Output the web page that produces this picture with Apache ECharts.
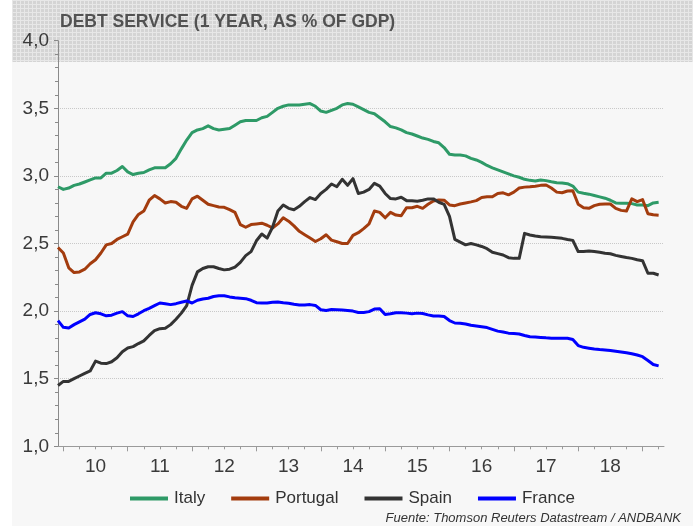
<!DOCTYPE html>
<html>
<head>
<meta charset="utf-8">
<style>
  html, body { margin: 0; padding: 0; background: #fff; }
  #chart { width: 695px; height: 526px; }
</style>
<script src="https://cdn.jsdelivr.net/npm/echarts@6/dist/echarts.min.js"></script>
</head>
<body>
<div id="chart"></div>
<script>
// monthly points, Dec 2009 .. Apr 2019 (axis runs one month further)
const startYear = 2009
const startMonth = 12
const axisMonths = 114
const yearLabels = ['10', '11', '12', '13', '14', '15', '16', '17', '18']
const yTicks = ['1,0', '1,5', '2,0', '2,5', '3,0', '3,5', '4,0']

const italy = [
  2.92, 2.90, 2.91, 2.93, 2.94, 2.955, 2.97, 2.985, 2.985, 3.02, 3.02, 3.04,
  3.07, 3.03, 3.01, 3.02, 3.025, 3.045, 3.06, 3.06, 3.06, 3.09, 3.13, 3.20,
  3.265, 3.32, 3.34, 3.35, 3.37, 3.35, 3.34, 3.345, 3.35, 3.375, 3.40, 3.41,
  3.41, 3.41, 3.43, 3.44, 3.47, 3.50, 3.515, 3.525, 3.525, 3.525, 3.53, 3.535,
  3.515, 3.48, 3.47, 3.485, 3.50, 3.525, 3.535, 3.53, 3.51, 3.49, 3.47, 3.46,
  3.43, 3.40, 3.365, 3.355, 3.34, 3.32, 3.31, 3.295, 3.28, 3.27, 3.255, 3.245,
  3.21, 3.16, 3.155, 3.155, 3.148, 3.13, 3.118, 3.10, 3.077, 3.06, 3.045, 3.03,
  3.015, 3.00, 2.99, 2.975, 2.967, 2.962, 2.97, 2.965, 2.957, 2.95, 2.947, 2.942,
  2.925, 2.88, 2.872, 2.865, 2.855, 2.845, 2.835, 2.82, 2.80, 2.797, 2.797, 2.795,
  2.785, 2.785, 2.78, 2.80, 2.805
]
const portugal = [
  2.47, 2.43, 2.32, 2.285, 2.29, 2.31, 2.35, 2.38, 2.43, 2.49, 2.50, 2.53,
  2.55, 2.57, 2.66, 2.715, 2.74, 2.82, 2.855, 2.83, 2.80, 2.81, 2.805, 2.775,
  2.76, 2.83, 2.85, 2.82, 2.79, 2.78, 2.77, 2.768, 2.75, 2.73, 2.64, 2.62,
  2.64, 2.645, 2.65, 2.635, 2.615, 2.645, 2.69, 2.665, 2.63, 2.59, 2.565, 2.54,
  2.515, 2.535, 2.565, 2.525, 2.513, 2.50, 2.50, 2.56, 2.58, 2.61, 2.645, 2.74,
  2.73, 2.69, 2.73, 2.71, 2.705, 2.765, 2.765, 2.775, 2.76, 2.79, 2.815, 2.822,
  2.82, 2.785, 2.78, 2.792, 2.80, 2.808, 2.817, 2.84, 2.845, 2.845, 2.87, 2.875,
  2.86, 2.88, 2.91, 2.917, 2.92, 2.924, 2.93, 2.933, 2.91, 2.88, 2.875, 2.888,
  2.89, 2.79, 2.765, 2.76, 2.78, 2.79, 2.792, 2.792, 2.76, 2.745, 2.74, 2.83,
  2.81, 2.825, 2.72, 2.712, 2.709
]
const spain = [
  1.45, 1.48, 1.48, 1.50, 1.52, 1.54, 1.557, 1.63, 1.615, 1.612, 1.625, 1.655,
  1.70, 1.727, 1.737, 1.76, 1.78, 1.82, 1.855, 1.87, 1.873, 1.90, 1.94, 1.985,
  2.04, 2.19, 2.29, 2.315, 2.328, 2.328, 2.315, 2.305, 2.31, 2.325, 2.36, 2.41,
  2.44, 2.52, 2.57, 2.54, 2.62, 2.74, 2.785, 2.76, 2.75, 2.775, 2.81, 2.84,
  2.825, 2.87, 2.90, 2.94, 2.92, 2.975, 2.93, 2.98, 2.87, 2.88, 2.90, 2.945,
  2.925, 2.87, 2.832, 2.83, 2.842, 2.817, 2.817, 2.812, 2.82, 2.83, 2.83, 2.805,
  2.79, 2.70, 2.53, 2.51, 2.49, 2.50, 2.49, 2.478, 2.462, 2.435, 2.425, 2.415,
  2.395, 2.39, 2.39, 2.575, 2.563, 2.555, 2.55, 2.548, 2.546, 2.543, 2.538, 2.53,
  2.523, 2.44, 2.44, 2.445, 2.44, 2.435, 2.428, 2.424, 2.412, 2.404, 2.396, 2.39,
  2.38, 2.373, 2.28, 2.28, 2.267
]
const france = [
  1.93, 1.88, 1.875, 1.90, 1.92, 1.94, 1.975, 1.988, 1.98, 1.965, 1.97, 1.985,
  1.996, 1.965, 1.96, 1.98, 2.003, 2.02, 2.04, 2.06, 2.055, 2.048, 2.055, 2.065,
  2.075, 2.06, 2.08, 2.09, 2.095, 2.108, 2.113, 2.114, 2.105, 2.098, 2.095, 2.092,
  2.08, 2.062, 2.06, 2.06, 2.065, 2.068, 2.062, 2.058, 2.05, 2.045, 2.045, 2.048,
  2.042, 2.01, 2.005, 2.012, 2.01, 2.008, 2.005, 2.00, 1.99, 1.99, 1.996, 2.015,
  2.018, 1.975, 1.98, 1.988, 1.988, 1.985, 1.98, 1.985, 1.982, 1.972, 1.964, 1.964,
  1.96, 1.93, 1.912, 1.91, 1.905, 1.895, 1.89, 1.884, 1.878, 1.865, 1.852, 1.845,
  1.837, 1.834, 1.831, 1.82, 1.81, 1.808, 1.805, 1.802, 1.80, 1.799, 1.799, 1.799,
  1.79, 1.745, 1.732, 1.726, 1.72, 1.716, 1.713, 1.708, 1.703, 1.698, 1.692, 1.684,
  1.675, 1.663, 1.635, 1.605, 1.595
]

const months = []
for (let k = 0; k < axisMonths; k++) {
  const t = startMonth - 1 + k
  months.push((startYear + Math.floor(t / 12)) + '-' + String(t % 12 + 1).padStart(2, '0'))
}
const monthOf = v => Number(v.slice(5, 7))

// textured band behind the title
const tex = document.createElement('canvas')
tex.width = 4
tex.height = 4
const g = tex.getContext('2d')
g.fillStyle = '#d4d4d4'
g.fillRect(0, 0, 4, 4)
g.fillStyle = '#e7e7e7'
g.fillRect(0, 0, 4, 1)
g.fillRect(0, 0, 1, 4)

const FONT = 'Liberation Sans, Arial, sans-serif'
const chart = echarts.init(document.getElementById('chart'))

chart.setOption({
  animation: false,
  backgroundColor: '#fff',
  title: {
    text: 'DEBT SERVICE (1 YEAR, AS % OF GDP)',
    left: 55, top: 8,
    textStyle: { fontFamily: FONT, fontSize: 17.5, fontWeight: 'bold', color: '#525252' }
  },
  graphic: [
    { type: 'rect', z: 0, silent: true, shape: { x: 12, y: 62, width: 681, height: 464 }, style: { fill: '#f7f7f7' } },
    { type: 'rect', z: 2, silent: true, shape: { x: 12, y: 0, width: 681, height: 62 }, style: { fill: { image: tex, repeat: 'repeat' } } },
    {
      type: 'text', z: 5, right: 14, top: 512,
      style: { text: 'Fuente: Thomson Reuters Datastream / ANDBANK', font: 'italic 13px ' + FONT, fill: '#333' }
    }
  ],
  legend: {
    left: 125, top: 485,
    icon: 'rect', itemWidth: 38, itemHeight: 4, itemGap: 26, itemSpacing: 0,
    textStyle: { fontFamily: FONT, fontSize: 17, color: '#333', padding: [0, 0, 0, 1] },
    data: ['Italy', 'Portugal', 'Spain', 'France']
  },
  grid: { left: 58, right: 31, top: 40.7, bottom: 79.7, containLabel: false },
  xAxis: [
    {
      type: 'category', data: months, boundaryGap: false, z: 3,
      axisLine: { lineStyle: { color: '#9a9a9a', width: 1 } },
      axisTick: { show: true, length: 3, interval: (i, v) => monthOf(v) % 3 === 1, lineStyle: { color: '#9a9a9a' } },
      axisLabel: {
        interval: (i, v) => monthOf(v) === 7,
        formatter: v => yearLabels[Number(v.slice(0, 4)) - 2010],
        margin: 11, fontFamily: FONT, fontSize: 19, color: '#3a3a3a'
      },
      splitLine: { show: false }
    },
    {
      type: 'category', data: months, boundaryGap: false, z: 3, position: 'bottom',
      axisLine: { show: false },
      axisTick: { show: true, length: 5, interval: (i, v) => monthOf(v) === 1, lineStyle: { color: '#9a9a9a' } },
      axisLabel: { show: false },
      splitLine: { show: false }
    }
  ],
  yAxis: [
    {
      type: 'value', min: 1, max: 4, interval: 0.5, z: 3,
      axisLine: { show: true, lineStyle: { color: '#8a8a8a', width: 1 } },
      axisTick: { show: true, length: 4, lineStyle: { color: '#8a8a8a' } },
      minorTick: { show: true, splitNumber: 5, length: 3, lineStyle: { color: '#8a8a8a' } },
      axisLabel: {
        formatter: v => yTicks[Math.round((v - 1) / 0.5)],
        margin: 9, fontFamily: FONT, fontSize: 19, color: '#3a3a3a'
      },
      splitLine: { show: false }
    },
    {
      type: 'value', min: 1, max: 4, interval: 0.5, z: 1,
      axisLine: { show: false }, axisTick: { show: false }, axisLabel: { show: false },
      splitLine: { show: true, lineStyle: { color: '#c9c9c9', type: 'dotted', width: 1 } }
    }
  ],
  series: [
    { name: 'Italy', data: italy, color: '#2e9a67' },
    { name: 'Portugal', data: portugal, color: '#a33c0e' },
    { name: 'Spain', data: spain, color: '#333333' },
    { name: 'France', data: france, color: '#0000ff' }
  ].map(s => ({
    name: s.name, type: 'line', data: s.data, xAxisIndex: 0, yAxisIndex: 0, z: 4,
    showSymbol: false, symbol: 'none',
    itemStyle: { color: s.color },
    lineStyle: { color: s.color, width: 3, join: 'round' }
  }))
})
</script>
</body>
</html>
